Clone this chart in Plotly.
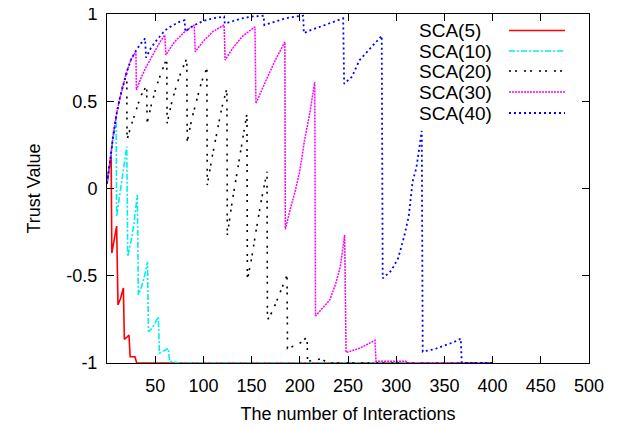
import plotly.graph_objects as go

# ---- data ----
series_names = ["SCA(5)", "SCA(10)", "SCA(20)", "SCA(30)", "SCA(40)"]

sca5_x = [0, 2, 4.3, 5, 7.5, 10, 11.4, 14, 17, 18, 20, 22.8, 24, 29, 30.8, 400]
sca5_y = [0.03, 0.1, 0.19, -0.37, -0.3, -0.215, -0.668, -0.63, -0.57, -0.864, -0.855, -0.84, -0.964, -0.964, -1, -1]

sca10_x = [0, 3, 6, 9.5, 10, 13, 16, 18, 20.5, 21.5, 25, 28, 31.5, 32.5, 36, 39, 42,
           43, 47, 50, 53.3, 54.3, 59, 63.6, 65, 72, 75, 400]
sca10_y = [0.03, 0.15, 0.3, 0.41, -0.16, -0.05, 0.05, 0.13, 0.24, -0.39, -0.3, -0.2, -0.037, -0.61, -0.56, -0.5, -0.42,
           -0.82, -0.8, -0.77, -0.735, -0.944, -0.93, -0.916, -0.99, -0.995, -1, -1]

sca20_x = [0, 2, 4, 6, 8, 10, 13, 16, 20.5,
           20.8, 25, 30, 35, 41.2,
           41.6, 46, 51, 56, 62,
           62.4, 67, 72, 77, 82.8,
           83.2, 88, 93, 98, 103.6,
           104, 109, 114, 119, 124.4,
           124.8, 130, 135, 140, 145.2,
           145.6, 150, 155, 160, 166,
           166.4, 172, 178, 183, 186.8,
           187.2, 195, 202, 207.6,
           208, 215, 222, 224, 228, 400]
sca20_y = [0.03, 0.1, 0.19, 0.29, 0.37, 0.43, 0.51, 0.58, 0.66,
           0.28, 0.36, 0.45, 0.53, 0.59,
           0.374, 0.48, 0.58, 0.66, 0.746,
           0.374, 0.49, 0.59, 0.67, 0.746,
           0.268, 0.4, 0.51, 0.61, 0.69,
           0.02, 0.18, 0.33, 0.46, 0.574,
           -0.266, -0.07, 0.1, 0.27, 0.43,
           -0.524, -0.4, -0.23, -0.07, 0.096,
           -0.754, -0.7, -0.62, -0.55, -0.496,
           -0.916, -0.9, -0.88, -0.85,
           -0.99, -0.985, -0.975, -0.98, -1, -1]

sca30_x = [0, 2, 4, 6, 8, 10, 13, 16, 20, 25, 30,
           30.5, 35, 40, 45, 50, 55, 60,
           61, 70, 80, 90.5,
           91.5, 100, 110, 121.5,
           122.5, 130, 140, 153.5,
           154.5, 165, 175, 184.5,
           185, 190, 195, 200, 205, 210, 215.5,
           216.3, 225, 231, 237, 242, 246.5,
           248, 262, 278,
           279, 310, 312, 400]
sca30_y = [0.03, 0.1, 0.19, 0.29, 0.37, 0.43, 0.51, 0.58, 0.66, 0.74, 0.785,
           0.564, 0.63, 0.69, 0.74, 0.79, 0.84, 0.88,
           0.765, 0.84, 0.895, 0.937,
           0.784, 0.845, 0.9, 0.937,
           0.736, 0.8, 0.87, 0.927,
           0.488, 0.62, 0.74, 0.84,
           -0.234, -0.12, -0.02, 0.1, 0.28, 0.42, 0.61,
           -0.73, -0.68, -0.64, -0.55, -0.45, -0.266,
           -0.94, -0.916, -0.87,
           -0.99, -0.99, -1, -1]

sca40_x = [0, 2, 4, 6, 8, 10, 13, 16, 20, 25, 30, 35, 39.5,
           40.5, 45, 50, 55, 60, 65, 70, 75, 80.5,
           81.2, 90, 100, 110, 121.5,
           122.2, 130, 140, 150, 162.5,
           163.2, 175, 185, 195, 203.5,
           204.2, 210, 220, 230, 240, 245,
           246, 254, 262, 273, 285,
           286, 295, 302, 308, 313, 317, 321, 326.5,
           327.5, 340, 350, 360, 367,
           368, 400]
sca40_y = [0.03, 0.1, 0.19, 0.29, 0.37, 0.43, 0.51, 0.58, 0.66, 0.74, 0.79, 0.83, 0.86,
           0.75, 0.8, 0.84, 0.875, 0.905, 0.925, 0.94, 0.955, 0.965,
           0.9, 0.935, 0.96, 0.975, 0.985,
           0.945, 0.96, 0.975, 0.985, 0.99,
           0.937, 0.96, 0.975, 0.985, 0.99,
           0.89, 0.905, 0.925, 0.945, 0.965, 0.975,
           0.6, 0.64, 0.736, 0.8, 0.875,
           -0.515, -0.47, -0.4, -0.28, -0.16, 0.04, 0.12, 0.33,
           -0.935, -0.92, -0.9, -0.88, -0.86,
           -1, -1]

x_tick_vals = [50, 100, 150, 200, 250, 300, 350, 400, 450, 500]
y_tick_vals = [-1, -0.5, 0, 0.5, 1]
y_tick_text = ["-1", "-0.5", "0", "0.5", "1"]

# ---- styles ----
FONT = "Liberation Sans, Arial, Helvetica, sans-serif"
styles = [
    dict(color="#ff0000", width=1.6, dash="solid"),
    dict(color="#00eeee", width=1.6, dash="6px,2px,2px,2px"),
    dict(color="#000000", width=1.6, dash="2px,4px,2px,7px"),
    dict(color="#ff00ff", width=1.5, dash="2px,1px"),
    dict(color="#0000ff", width=1.8, dash="2px,3px"),
]
xs = [sca5_x, sca10_x, sca20_x, sca30_x, sca40_x]
ys = [sca5_y, sca10_y, sca20_y, sca30_y, sca40_y]

fig = go.Figure()
for name, x, y, st in zip(series_names, xs, ys, styles):
    fig.add_trace(go.Scatter(x=x, y=y, mode="lines", name=name, line=st,
                             showlegend=False))

# page has an 8px body margin: compensate so the plot lands where the reference has it
OFF = 8
W, H = 623, 428
L, R, T, B = 107 - OFF, 34 + OFF, 14 - OFF, 65 + OFF
pw, ph = W - L - R, H - T - B
row_py = [30.5, 51, 71, 92, 113]
for name, st, py in zip(series_names, styles, row_py):
    yp = (H - B - (py - OFF)) / ph
    fig.add_annotation(xref="paper", yref="paper", x=(417 - 107) / pw, y=yp,
                       text=name, showarrow=False, xanchor="left", yanchor="middle",
                       font=dict(family=FONT, size=19, color="black"))
    fig.add_shape(type="line", xref="paper", yref="paper",
                  x0=(509 - 107) / pw, x1=(565 - 107) / pw, y0=yp, y1=yp,
                  line=dict(color=st["color"], width=st["width"], dash=st["dash"]))

axis_common = dict(showgrid=False, zeroline=False, showline=True, linecolor="black",
                   linewidth=1, mirror="allticks", ticks="inside", ticklen=7,
                   tickcolor="black", ticklabeloverflow="allow",
                   tickfont=dict(family=FONT, size=18, color="black"))

fig.update_layout(
    width=W, height=H,
    margin=dict(l=L, r=R, t=T, b=B, autoexpand=False),
    plot_bgcolor="white", paper_bgcolor="white",
    showlegend=False,
    xaxis=dict(range=[0, 500], tickvals=x_tick_vals, ticklabelstandoff=6,
               title=dict(text="The number of Interactions", standoff=12,
                          font=dict(family=FONT, size=18, color="black")),
               **axis_common),
    yaxis=dict(range=[-1, 1], tickvals=y_tick_vals, ticktext=y_tick_text,
               ticklabelstandoff=5,
               title=dict(text="Trust Value", standoff=21,
                          font=dict(family=FONT, size=18, color="black")),
               **axis_common),
)

fig.write_html("out.html")
